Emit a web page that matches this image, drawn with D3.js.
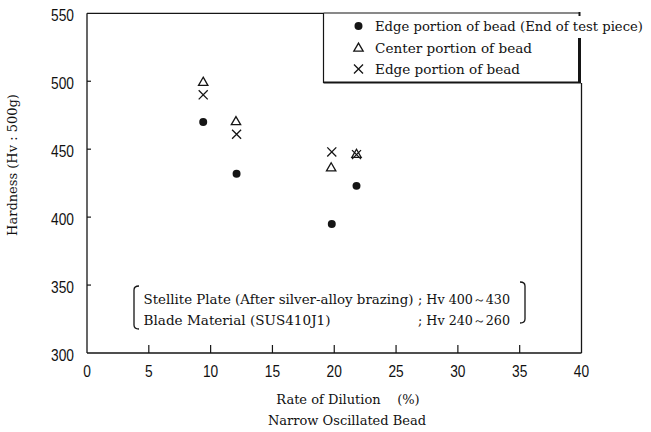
<!DOCTYPE html>
<html>
<head>
<meta charset="utf-8">
<script src="https://cdn.jsdelivr.net/npm/d3@7"></script>
<style>
  body { margin: 0; background: #fff; }
  .tick-label { font-family: "Liberation Sans", Arial, sans-serif; font-size: 16px; fill: #111; }
  .serif { font-family: "DejaVu Serif", "Liberation Serif", serif; font-size: 13px; fill: #111; }
</style>
</head>
<body>
<div id="chart"></div>
<script>
// 図のサイズ
const width = 651;
const height = 432;

// データ
const xTicks = [0, 5, 10, 15, 20, 25, 30, 35, 40];
const yTicks = [300, 350, 400, 450, 500, 550];

const edgeEndX = [9.4, 12.1, 19.8, 21.8];
const edgeEndY = [470, 432, 395, 423];
const centerX = [9.4, 12.05, 19.75, 21.8];
const centerY = [499, 470, 436, 446];
const edgeX = [9.4, 12.1, 19.8, 21.8];
const edgeY = [490, 461, 448, 446];

const legendLabels = [
    "Edge portion of bead (End of test piece)",
    "Center portion of bead",
    "Edge portion of bead"
];
const noteLeft = ["Stellite Plate (After silver-alloy brazing)", "Blade Material (SUS410J1)"];
const noteRight = ["; Hv 400\uFF5E430", "; Hv 240\uFF5E260"];

const svg = d3.select("#chart").append("svg")
    .attr("width", width)
    .attr("height", height);

// スケール
const x = d3.scaleLinear().domain([0, 40]).range([87, 581.5]);
const y = d3.scaleLinear().domain([300, 550]).range([353, 13.3]);

const ink = "#151515";

// 枠線
svg.append("line").attr("x1", x(0)).attr("x2", x(0)).attr("y1", y(550)).attr("y2", y(300))
    .attr("stroke", ink).attr("stroke-width", 1.3);
svg.append("line").attr("x1", x(0)).attr("x2", x(40)).attr("y1", y(300)).attr("y2", y(300))
    .attr("stroke", ink).attr("stroke-width", 1.4);
svg.append("line").attr("x1", x(0)).attr("x2", 323.5).attr("y1", y(550)).attr("y2", y(550))
    .attr("stroke", ink).attr("stroke-width", 1.2);
svg.append("line").attr("x1", x(40)).attr("x2", x(40)).attr("y1", 83).attr("y2", y(300))
    .attr("stroke", ink).attr("stroke-width", 1.3);

// 目盛り (内向き)
svg.selectAll("line.xt")
    .data(xTicks.slice(1, -1))
    .enter()
    .append("line")
    .attr("class", "xt")
    .attr("x1", d => x(d)).attr("x2", d => x(d))
    .attr("y1", y(300)).attr("y2", y(300) - 8)
    .attr("stroke", ink).attr("stroke-width", 1.2);

svg.selectAll("line.yt")
    .data(yTicks.slice(1, -1))
    .enter()
    .append("line")
    .attr("class", "yt")
    .attr("x1", x(0)).attr("x2", x(0) + 4)
    .attr("y1", d => y(d)).attr("y2", d => y(d))
    .attr("stroke", ink).attr("stroke-width", 1.2);

// 目盛りラベル (細めの字形に横方向を縮める)
svg.selectAll("text.xl")
    .data(xTicks)
    .enter()
    .append("text")
    .attr("class", "tick-label xl")
    .attr("transform", d => `translate(${x(d)},377) scale(0.86,1)`)
    .attr("text-anchor", "middle")
    .text(d => d);

svg.selectAll("text.yl")
    .data(yTicks)
    .enter()
    .append("text")
    .attr("class", "tick-label yl")
    .attr("transform", d => `translate(74,${y(d) + 7.5}) scale(0.86,1)`)
    .attr("text-anchor", "end")
    .text(d => d);

// 軸タイトル
svg.append("text").attr("class", "serif")
    .attr("transform", "translate(17,165) rotate(-90)")
    .attr("text-anchor", "middle")
    .text("Hardness (Hv : 500g)");

svg.append("text").attr("class", "serif")
    .attr("x", 348).attr("y", 404)
    .attr("text-anchor", "middle")
    .attr("xml:space", "preserve")
    .text("Rate of Dilution    (%)");

svg.append("text").attr("class", "serif")
    .attr("x", 347).attr("y", 425)
    .attr("text-anchor", "middle")
    .text("Narrow Oscillated Bead");

// マーカー
const dotSym = d3.symbol(d3.symbolCircle, 50);
const triSym = d3.symbol(d3.symbolTriangle, 38);
const xSym = d3.symbol(d3.symbolTimes, 55);

function drawSeries(xs, ys, sym, filled) {
    svg.append("g").selectAll("path")
        .data(xs.map((v, i) => [v, ys[i]]))
        .enter()
        .append("path")
        .attr("d", sym)
        .attr("transform", d => `translate(${x(d[0])},${y(d[1])})`)
        .attr("fill", filled ? ink : "none")
        .attr("stroke", ink)
        .attr("stroke-width", filled ? 0 : 1.3);
}
drawSeries(centerX, centerY, triSym, false);
drawSeries(edgeX, edgeY, xSym, false);
drawSeries(edgeEndX, edgeEndY, dotSym, true);

// 凡例
const lg = svg.append("g");
lg.append("line").attr("x1", 323.5).attr("x2", 580).attr("y1", 13).attr("y2", 13)
    .attr("stroke", ink).attr("stroke-width", 1.2);
lg.append("line").attr("x1", 323.5).attr("x2", 323.5).attr("y1", 13).attr("y2", 83)
    .attr("stroke", ink).attr("stroke-width", 1.2);
lg.append("line").attr("x1", 323.5).attr("x2", 581).attr("y1", 82.5).attr("y2", 82.5)
    .attr("stroke", ink).attr("stroke-width", 2.2);
lg.append("line").attr("x1", 579.5).attr("x2", 579.5).attr("y1", 38).attr("y2", 83)
    .attr("stroke", ink).attr("stroke-width", 3);
lg.append("line").attr("x1", 579.5).attr("x2", 579.5).attr("y1", 12).attr("y2", 16)
    .attr("stroke", ink).attr("stroke-width", 2);

const legendSyms = [[dotSym, true], [triSym, false], [xSym, false]];
const legendRowY = [26, 48.5, 69];
const legendW = [268, 157, 145];
legendLabels.forEach((t, i) => {
    lg.append("path")
        .attr("d", legendSyms[i][0])
        .attr("transform", `translate(358.5,${legendRowY[i]})`)
        .attr("fill", legendSyms[i][1] ? ink : "none")
        .attr("stroke", ink)
        .attr("stroke-width", legendSyms[i][1] ? 0 : 1.3);
    lg.append("text").attr("class", "serif")
        .attr("x", 375).attr("y", legendRowY[i] + 4.5)
        .attr("textLength", legendW[i])
        .attr("lengthAdjust", "spacingAndGlyphs")
        .text(t);
});

// 注記
const note = svg.append("g");
const noteY = [304, 325];
const noteW = [270, 187];
noteLeft.forEach((t, i) => {
    note.append("text").attr("class", "serif")
        .attr("x", 143.5).attr("y", noteY[i])
        .attr("textLength", noteW[i])
        .attr("lengthAdjust", "spacingAndGlyphs")
        .text(t);
    note.append("text").attr("class", "serif")
        .attr("x", 418).attr("y", noteY[i])
        .attr("textLength", 92)
        .attr("lengthAdjust", "spacingAndGlyphs")
        .text(noteRight[i]);
});
// 括弧
note.append("path")
    .attr("d", "M139,286 Q134,286 134,290 L134,325 Q134,329 139,329")
    .attr("fill", "none").attr("stroke", ink).attr("stroke-width", 1.3);
note.append("path")
    .attr("d", "M520,282 Q525,282 525,286 L525,319 Q525,323 520,323")
    .attr("fill", "none").attr("stroke", ink).attr("stroke-width", 1.3);
</script>
</body>
</html>
